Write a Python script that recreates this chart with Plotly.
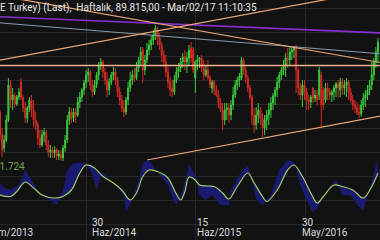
import plotly.graph_objects as go
import pandas as pd

# ---------------- data (index, thousands of points) ----------------
first_week = "2013-09-16"   # weekly bars

opens = [75.8, 71.2, 68.6, 70.2, 74.2, 81.2, 78.2, 79.0, 77.4, 78.8,
         81.8, 78.6, 76.6, 74.6, 76.6, 78.2, 76.2, 74.2, 73.2, 70.6,
         69.2, 71.2, 71.6, 69.2, 67.8, 68.2, 67.6, 68.2, 67.0, 67.2,
         66.6, 68.6, 70.2, 74.2, 75.8, 74.6, 75.8, 75.2, 77.8, 78.8,
         80.2, 81.6, 83.2, 83.8, 81.2, 79.8, 81.2, 83.2, 85.2, 85.8,
         83.8, 82.2, 80.2, 81.8, 83.2, 83.8, 82.2, 79.8, 78.2, 76.6,
         75.8, 78.2, 80.6, 82.2, 83.2, 82.6, 84.6, 86.2, 88.2, 84.2,
         86.2, 88.2, 89.2, 90.2, 91.2, 92.2, 90.6, 89.2, 87.2, 85.8,
         83.8, 81.8, 80.6, 79.8, 82.2, 83.8, 84.6, 85.8, 86.8, 85.8,
         86.6, 88.6, 88.2, 82.6, 85.8, 86.2, 86.6, 84.6, 83.2, 84.2,
         82.6, 80.6, 81.8, 80.2, 79.2, 77.6, 76.2, 74.2, 76.2, 76.6,
         75.2, 77.2, 79.2, 81.2, 82.2, 82.6, 86.2, 84.2, 82.6, 80.6,
         78.8, 75.2, 73.2, 75.2, 76.2, 74.6, 72.6, 74.2, 75.2, 76.2,
         77.6, 79.0, 80.2, 81.8, 83.2, 84.2, 85.2, 86.6, 86.2, 87.8,
         88.2, 88.6, 84.2, 80.6, 79.2, 81.2, 79.8, 78.2, 77.8, 80.6,
         78.6, 79.2, 79.2, 83.2, 80.2, 78.2, 80.6, 79.8, 79.2, 79.8,
         80.6, 81.4, 80.2, 81.8, 80.6, 81.2, 81.8, 79.8, 78.2, 77.2,
         76.6, 75.8, 75.4, 77.2, 78.6, 79.2, 80.2, 81.2, 83.2, 85.8, 87.8]
highs = [76.2, 72.6, 71.2, 75.2, 82.6, 82.2, 80.6, 79.6, 79.2, 80.6,
         82.6, 79.2, 77.8, 77.0, 78.8, 79.2, 78.2, 75.8, 73.8, 72.2,
         72.2, 72.6, 72.2, 70.2, 69.2, 68.8, 69.0, 68.6, 68.2, 68.2,
         69.2, 71.2, 75.2, 76.8, 76.6, 76.6, 76.6, 78.8, 79.8, 80.6,
         82.2, 84.2, 84.6, 84.2, 82.2, 82.2, 83.8, 85.8, 86.6, 86.2,
         84.6, 83.8, 82.6, 83.8, 84.8, 84.6, 82.8, 80.8, 79.2, 78.2,
         78.8, 81.8, 83.8, 84.2, 84.6, 85.8, 86.8, 88.8, 88.8, 87.2,
         89.6, 90.2, 91.0, 92.2, 93.2, 92.8, 91.6, 89.8, 88.2, 87.2,
         84.8, 82.8, 82.2, 83.2, 84.8, 85.6, 86.6, 87.6, 88.2, 87.8,
         89.2, 89.8, 88.8, 86.2, 87.2, 86.8, 87.2, 86.2, 85.2, 86.2,
         83.2, 82.2, 82.2, 81.2, 80.2, 78.6, 77.6, 77.6, 77.6, 77.6,
         78.2, 80.8, 82.2, 82.8, 83.6, 86.8, 86.6, 84.8, 83.2, 81.2,
         79.2, 76.6, 76.8, 77.6, 76.8, 75.6, 75.2, 76.2, 77.6, 78.8,
         79.6, 80.8, 82.8, 83.8, 84.8, 86.2, 87.6, 88.6, 88.8, 89.0,
         89.0, 89.2, 84.6, 81.6, 82.2, 82.2, 80.6, 79.2, 79.2, 80.8,
         80.2, 80.2, 84.8, 83.8, 80.8, 81.6, 81.6, 80.6, 80.2, 81.2,
         81.8, 82.2, 82.6, 82.6, 82.2, 82.6, 82.2, 80.6, 79.2, 78.2,
         77.8, 77.2, 78.2, 79.6, 80.2, 81.2, 82.2, 85.8, 86.6, 88.8, 90.6]
lows = [70.2, 66.8, 67.8, 69.8, 73.8, 76.6, 76.2, 76.6, 77.0, 78.2,
        78.2, 75.8, 73.6, 73.6, 75.8, 74.8, 72.8, 72.2, 69.2, 68.6,
        68.8, 69.8, 68.2, 66.8, 66.6, 66.6, 66.6, 66.2, 66.2, 66.0,
        66.0, 67.8, 69.6, 73.2, 73.6, 73.8, 73.6, 74.8, 76.6, 77.8,
        79.2, 80.6, 81.8, 80.2, 78.8, 79.2, 80.6, 82.2, 84.2, 82.6,
        81.2, 78.8, 79.2, 81.2, 82.2, 81.2, 78.8, 77.2, 75.8, 74.8,
        75.2, 77.2, 79.8, 81.2, 81.8, 82.2, 83.8, 85.2, 81.6, 83.2,
        85.6, 87.2, 88.2, 89.2, 90.2, 89.2, 88.2, 85.8, 84.8, 82.8,
        80.6, 79.0, 78.8, 79.2, 81.6, 82.6, 83.8, 84.6, 84.2, 83.6,
        85.2, 85.6, 83.6, 79.6, 84.2, 84.6, 83.8, 82.2, 82.8, 82.2,
        80.6, 79.6, 79.2, 78.8, 76.6, 75.8, 72.2, 73.2, 74.2, 73.6,
        74.2, 76.2, 78.6, 80.2, 80.8, 82.2, 83.2, 81.6, 79.8, 78.2,
        73.2, 71.6, 72.2, 73.6, 73.2, 70.8, 71.2, 72.2, 73.2, 74.6,
        76.2, 77.2, 78.8, 80.6, 82.2, 83.2, 82.8, 84.6, 85.2, 86.2,
        86.6, 79.6, 79.2, 78.2, 76.8, 78.2, 76.2, 76.2, 76.6, 77.6,
        77.8, 77.2, 78.2, 72.8, 76.2, 77.6, 78.2, 78.2, 77.8, 78.2,
        78.8, 78.6, 78.8, 79.2, 79.2, 78.8, 78.2, 77.6, 76.2, 75.6,
        75.2, 74.6, 74.8, 76.2, 76.8, 78.2, 79.2, 80.2, 82.2, 84.6, 85.6]
closes = [71.2, 68.2, 70.2, 74.2, 81.2, 78.2, 79.2, 77.4, 78.8, 79.8,
          78.6, 76.6, 74.6, 76.6, 78.2, 76.2, 74.2, 73.2, 70.6, 69.2,
          71.2, 71.8, 69.2, 67.8, 68.2, 67.6, 68.2, 67.0, 67.4, 66.6,
          68.6, 70.2, 74.2, 75.8, 74.6, 75.8, 75.2, 77.8, 78.8, 80.2,
          81.6, 83.2, 83.8, 81.2, 79.8, 81.2, 83.2, 85.2, 85.8, 83.8,
          82.2, 80.2, 81.8, 83.2, 83.8, 82.2, 79.8, 78.2, 76.6, 75.8,
          78.2, 80.6, 82.2, 83.2, 82.6, 84.6, 86.2, 87.8, 84.2, 86.2,
          88.2, 89.2, 90.2, 91.2, 92.6, 90.6, 89.2, 87.2, 85.8, 83.8,
          81.8, 80.2, 79.8, 82.2, 83.8, 84.6, 85.8, 86.8, 85.8, 86.6,
          88.2, 86.6, 84.2, 85.8, 86.2, 86.6, 84.6, 83.2, 84.2, 82.6,
          81.2, 81.8, 80.2, 79.2, 77.6, 76.2, 74.2, 76.2, 76.6, 75.2,
          77.2, 79.2, 81.2, 82.2, 83.0, 86.2, 84.2, 82.6, 80.6, 78.8,
          75.2, 73.2, 75.2, 76.2, 74.6, 72.6, 74.2, 75.2, 76.2, 77.6,
          79.0, 80.2, 81.8, 83.2, 84.2, 85.2, 86.6, 86.2, 87.8, 88.2,
          88.6, 84.2, 80.6, 79.2, 81.2, 79.8, 78.2, 77.8, 78.8, 78.6,
          79.2, 78.2, 84.2, 77.2, 77.2, 80.6, 79.8, 79.2, 79.8, 80.6,
          81.4, 80.6, 81.8, 80.6, 81.2, 81.8, 79.8, 78.2, 77.2, 76.6,
          75.8, 75.4, 77.2, 78.6, 79.2, 80.2, 81.2, 83.2, 85.8, 87.8, 89.815]

# oscillator (sampled at bar numbers)
osc_smooth_bar = [0, 5, 8, 12, 16, 20, 26, 30, 34, 38, 41, 45, 49, 54, 58, 62, 65, 68, 71, 75,
                  80, 83, 86, 88, 90, 93, 95, 99, 102, 106, 109, 113, 118, 121, 125, 127, 132, 137, 140, 144,
                  148, 151, 154, 159, 163, 168, 173, 177, 180]
osc_smooth = [30, 27, 37, 56, 44, 30, 24, 27, 40, 74, 90, 84, 67, 54, 40, 20, 34, 67, 80, 77,
              64, 40, 20, 36, 66, 60, 50, 48, 47, 34, 22, 47, 74, 54, 27, 17, 40, 80, 90, 67,
              34, 14, 27, 50, 47, 40, 24, 47, 74]
osc_raw_bar = [0, 2, 5, 9, 12, 15, 19, 24, 27, 30, 32, 35, 38, 41, 44, 46, 49, 52, 56, 59,
               60, 63, 66, 68, 71, 76, 80, 82, 84, 87, 89, 90, 93, 95, 98, 101, 105, 109, 110, 114,
               118, 120, 122, 125, 129, 133, 137, 140, 143, 146, 149, 152, 156, 160, 163, 167, 170, 173, 176, 179,
               180]
osc_raw = [54, 44, 40, 50, 80, 60, 30, 20, 10, 40, 80, 94, 94, 94, 70, 40, 76, 60, 44, 30,
           -4, 20, 60, 94, 100, 70, 50, 24, 10, 40, 70, 90, 70, 30, 20, 30, 10, 10, 40, 70,
           90, 60, 20, 10, 30, 80, 100, 96, 50, 20, -6, 10, 40, 60, 30, 30, 10, 0, 40, 90,
           100]

# trendlines (date, price in thousands)
purple_x = ["2013-09-01", "2017-03-15"]
purple_y = [94.9, 91.6]
grey_x = ["2013-09-01", "2017-03-15"]
grey_y = [93.7, 87.4]
orange_down_x = ["2013-09-01", "2017-03-15"]
orange_down_y = [99.2, 85.6]
orange_up_x = ["2013-09-01", "2017-03-15"]
orange_up_y = [86.0, 100.4]
orange_flat_x = ["2013-09-01", "2017-03-15"]
orange_flat_y = [85.1, 85.1]
orange_support_x = ["2015-01-19", "2017-03-15"]
orange_support_y = [66.2, 75.1]

title_text = "E Turkey) (Last),  Haftalık, 89.815,00 - Mar/02/17 11:10:35"
osc_label = "91.724"
tick_dates = ["2013-07-15", "2014-06-30", "2015-06-15", "2016-05-30"]
tick_days = ["15", "30", "15", "30"]
tick_months = ["Tem/2013", "Haz/2014", "Haz/2015", "May/2016"]

# ---------------- figure ----------------
dates = pd.date_range(first_week, periods=len(closes), freq="7D")
x_start = pd.Timestamp("2013-09-16")
x_end = pd.Timestamp("2017-03-05 16:00")
W, H = 380, 240
BG = "#121212"
GRID = "#262626"
ORANGE = "#eca877"

fig = go.Figure()
fig.add_trace(go.Candlestick(
    x=dates, open=opens, high=highs, low=lows, close=closes,
    increasing=dict(line=dict(color="#3cc83c", width=1), fillcolor="#3cc83c"),
    decreasing=dict(line=dict(color="#d22a24", width=1), fillcolor="#d22a24"),
    whiskerwidth=0, hoverinfo="skip"))

for xs, ys, col, w in [(grey_x, grey_y, "#8d9bab", 1),
                       (purple_x, purple_y, "#8a2fcf", 1.6),
                       (orange_down_x, orange_down_y, ORANGE, 1.2),
                       (orange_up_x, orange_up_y, ORANGE, 1.2),
                       (orange_flat_x, orange_flat_y, "#f0b38c", 1.4),
                       (orange_support_x, orange_support_y, ORANGE, 1.2)]:
    fig.add_trace(go.Scatter(x=xs, y=ys, mode="lines", line=dict(color=col, width=w),
                             hoverinfo="skip"))

fig.add_trace(go.Scatter(x=[dates[i] for i in osc_raw_bar], y=osc_raw, yaxis="y2",
                         mode="lines", line=dict(width=0, color="rgba(0,0,0,0)"),
                         hoverinfo="skip"))
fig.add_trace(go.Scatter(x=[dates[i] for i in osc_smooth_bar], y=osc_smooth, yaxis="y2",
                         mode="lines", line=dict(color="#a3cc66", width=1.2, shape="spline"),
                         fill="tonexty", fillcolor="rgb(26,26,112)",
                         hoverinfo="skip"))

ann = [dict(xref="paper", yref="paper", x=0, y=1 - 8 / H, xanchor="left", yanchor="middle",
            xshift=-2, text=title_text, showarrow=False,
            font=dict(family="Roboto", size=10, color="#e6e6e6")),
       dict(xref="paper", yref="paper", x=0, y=1 - 166.5 / H, xanchor="right", yanchor="middle",
            xshift=27, text=osc_label, showarrow=False,
            font=dict(family="Roboto", size=10, color="#6fa84a"))]
span = (x_end - x_start).total_seconds()
for d, day, mon in zip(tick_dates, tick_days, tick_months):
    px = (pd.Timestamp(d) - x_start).total_seconds() / span * W + 4
    if px >= 0:
        ann.append(dict(xref="paper", yref="paper", x=0, y=1 - 222 / H, xanchor="left",
                        yanchor="middle", xshift=px, text=day, showarrow=False,
                        font=dict(family="Roboto", size=10, color="#dcdcdc")))
    ann.append(dict(xref="paper", yref="paper", x=0, y=1 - 232.5 / H, xanchor="left",
                    yanchor="middle", xshift=px, text=mon, showarrow=False,
                    font=dict(family="Roboto", size=10, color="#dcdcdc")))

fig.update_layout(
    width=W, height=H, margin=dict(l=0, r=0, t=0, b=0),
    paper_bgcolor=BG, plot_bgcolor=BG, showlegend=False,
    xaxis=dict(type="date", range=[x_start, x_end], rangeslider=dict(visible=False),
               showticklabels=False, ticks="", showgrid=True, gridcolor=GRID, gridwidth=1,
               tick0="2013-07-01", dtick="M12", zeroline=False, showline=False),
    yaxis=dict(range=[50.2, 98.2], showticklabels=False, ticks="", showgrid=True,
               gridcolor=GRID, tick0=96.6, dtick=4.8, zeroline=False),
    yaxis2=dict(range=[-60, 420], overlaying="y", visible=False),
    annotations=ann,
)
fig.write_html("out.html")
